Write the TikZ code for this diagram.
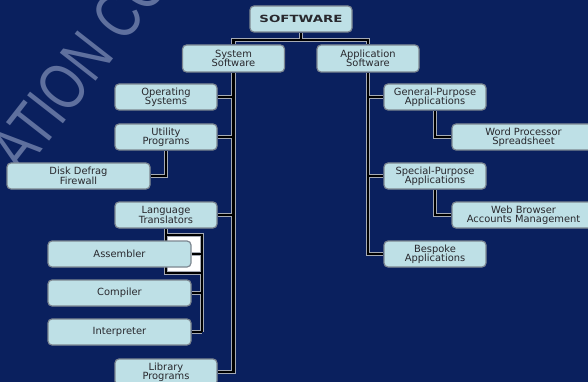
\documentclass[tikz,border=0pt]{standalone}
\usepackage{fontspec}
\usepackage{graphicx}
\setmainfont{DejaVu Sans}
\newfontfamily\markfont{Liberation Sans}
\definecolor{navy}{RGB}{10,32,94}
\definecolor{boxfill}{RGB}{190,224,230}
\definecolor{boxline}{RGB}{125,135,145}
\definecolor{boxtext}{RGB}{40,40,45}
\definecolor{markblue}{RGB}{95,112,158}
\definecolor{wireedge}{RGB}{165,170,180}
\pgfdeclarelayer{bg}
\pgfdeclarelayer{wires}
\pgfsetlayers{bg,wires,main}
\begin{document}
\lineskiplimit=-20pt\relax
\begin{tikzpicture}[x=1pt,y=-1pt,
  box/.style={draw=boxline, line width=1.2pt, fill=boxfill, rounded corners=4pt,
    text=boxtext, align=center, inner sep=0pt, minimum height=26pt,
    font=\fontsize{9.9}{9.4}\selectfont},
  midbox/.style={box, minimum width=102pt},
  widebox/.style={box, minimum width=143pt},
  wire/.style={draw=wireedge, double=black, double distance=2.8pt, line width=0.7pt},
]
\useasboundingbox (0,0) rectangle (588,382);

% root and first level
\node[midbox] (sw) at (301,19) {\scalebox{1.35}[1]{\bfseries SOFTWARE}};
\node[midbox, minimum height=27pt] (ss) at (233.5,58.5) {System\\Software};
\node[midbox, minimum height=27pt] (as) at (368,58.5) {Application\\Software};

% system software branch
\node[midbox] (os)  at (166,97)  {Operating\\Systems};
\node[midbox] (up)  at (166,137) {Utility\\Programs};
\node[widebox] (dd) at (78.5,176) {Disk Defrag\\Firewall};
\node[midbox] (lt)  at (166,215) {Language\\Translators};
\node[widebox] (asm) at (119.5,254) {Assembler};
\node[widebox] (cmp) at (119.5,293) {Compiler};
\node[widebox] (int) at (119.5,332) {Interpreter};
\node[midbox] (lib) at (166,372) {Library\\Programs};

% application software branch
\node[midbox] (gp)  at (435,97)  {General-Purpose\\Applications};
\node[widebox] (wp) at (523.5,137) {Word Processor\\Spreadsheet};
\node[midbox] (sp)  at (435,176) {Special-Purpose\\Applications};
\node[widebox] (wb) at (523.5,215) {Web Browser\\Accounts Management};
\node[midbox] (bs)  at (435,254) {Bespoke\\Applications};

\begin{pgfonlayer}{bg}
  \fill[navy] (0,0) rectangle (588,382);
  \begin{scope}
    \clip (0,0) rectangle (588,382);
    % diagonal watermark lettering
    \node[rotate=52, xscale=0.77, anchor=base west, inner sep=0pt, text=markblue,
      font=\markfont\fontsize{66}{66}\selectfont] (mark) at (22.5,175.5) {ATION CON};
  \end{scope}
\end{pgfonlayer}

\begin{pgfonlayer}{wires}
  \coordinate (split) at (301,40);
  \draw[wire] (sw.south) -- (split) (ss.north) |- (split) -| (as.north);

  % system trunk
  \draw[wire] (ss.south) |- (lib.east)
    (os.east) -- (os.east -| ss.south)
    (up.east) -- (up.east -| ss.south)
    (lt.east) -- (lt.east -| ss.south);
  \draw[wire] (up.south) |- (dd.east);

  % language translators bracket
  \coordinate (railtop) at (202,235);
  \coordinate (railbot) at (202,273);
  \fill[white] (lt.south |- railtop) rectangle (railbot);
  \draw[wire] (lt.south) |- (railbot)
    (lt.south |- railtop) -- (railtop) -- (railtop |- int.east)
    (asm.east) -- (asm.east -| railtop)
    (cmp.east) -- (cmp.east -| railtop)
    (int.east) -- (int.east -| railtop);

  % application trunk
  \draw[wire] (as.south) |- (bs.west)
    (gp.west) -- (gp.west -| as.south)
    (sp.west) -- (sp.west -| as.south);
  \draw[wire] (gp.south) |- (wp.west);
  \draw[wire] (sp.south) |- (wb.west);
\end{pgfonlayer}
\end{tikzpicture}
\end{document}
